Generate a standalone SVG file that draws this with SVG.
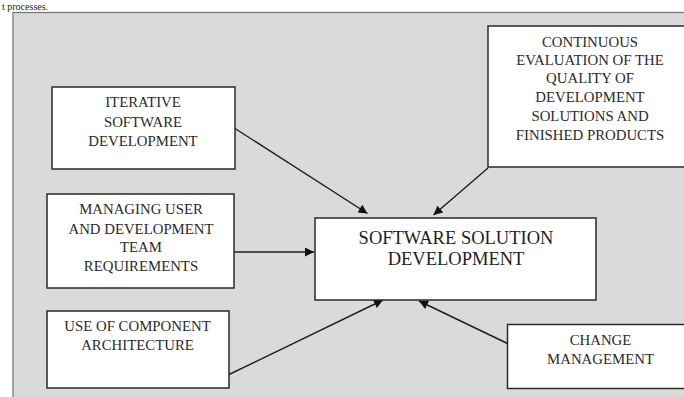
<svg xmlns="http://www.w3.org/2000/svg" width="684" height="397" viewBox="0 0 684 397">
<style>
.box{fill:#ffffff;stroke:#2a2a2a;stroke-width:1.5}
.t{font-family:"Liberation Serif","Times New Roman",serif;font-size:14.8px;fill:#2a2a2a;text-anchor:middle}
.tb{font-family:"Liberation Serif","Times New Roman",serif;font-size:18.5px;fill:#1e1e1e;text-anchor:middle}
.c{stroke:#1e1e1e;stroke-width:1.4;fill:none;marker-end:url(#ah)}
</style>
<defs>
<marker id="ah" viewBox="0 0 10 10" refX="10" refY="5" markerWidth="11" markerHeight="9" markerUnits="userSpaceOnUse" orient="auto">
<path d="M0,0 L10,5 L0,10 z" fill="#111"/>
</marker>
</defs>
<rect x="0" y="0" width="684" height="397" fill="#ffffff"/>
<text x="2" y="9.8" font-family="Liberation Serif, Times New Roman, serif" font-size="10" fill="#222">t processes.</text>
<rect id="panel" x="13" y="12.5" width="680" height="400" fill="#dadada" stroke="#7a7a7a" stroke-width="1.3"/>

<g id="connectors">
<line class="c" x1="235" y1="128.5" x2="367.5" y2="213.5"/>
<line class="c" x1="488" y1="168" x2="433.5" y2="215"/>
<line class="c" x1="234" y1="252" x2="314" y2="252"/>
<line class="c" x1="229" y1="374.5" x2="383" y2="300"/>
<line class="c" x1="507.5" y1="343.5" x2="419" y2="301"/>
</g>

<g id="iterative">
<rect class="box" x="52" y="87" width="183" height="82"/>
<text class="t" x="143" y="107">ITERATIVE</text>
<text class="t" x="143" y="126.7">SOFTWARE</text>
<text class="t" x="143" y="146">DEVELOPMENT</text>
</g>

<g id="managing">
<rect class="box" x="47" y="194" width="187" height="94"/>
<text class="t" x="141" y="214.3">MANAGING USER</text>
<text class="t" x="141" y="233.5">AND DEVELOPMENT</text>
<text class="t" x="141" y="252.3">TEAM</text>
<text class="t" x="141" y="271">REQUIREMENTS</text>
</g>

<g id="component">
<rect class="box" x="47" y="311" width="182" height="77"/>
<text class="t" x="137.5" y="331">USE OF COMPONENT</text>
<text class="t" x="137.5" y="350.3">ARCHITECTURE</text>
</g>

<g id="central">
<rect class="box" x="315" y="218" width="281" height="82"/>
<text class="tb" x="456" y="244">SOFTWARE SOLUTION</text>
<text class="tb" x="456" y="265">DEVELOPMENT</text>
</g>

<g id="evaluation">
<rect class="box" x="488" y="26" width="210" height="141"/>
<text class="t" x="590" y="46.7">CONTINUOUS</text>
<text class="t" x="590" y="65">EVALUATION OF THE</text>
<text class="t" x="590" y="83">QUALITY OF</text>
<text class="t" x="590" y="102">DEVELOPMENT</text>
<text class="t" x="590" y="121">SOLUTIONS AND</text>
<text class="t" x="590" y="139.7">FINISHED PRODUCTS</text>
</g>

<g id="change">
<rect class="box" x="507.5" y="324.5" width="190" height="64"/>
<text class="t" x="600.5" y="344.7">CHANGE</text>
<text class="t" x="600.5" y="363.7">MANAGEMENT</text>
</g>
</svg>
